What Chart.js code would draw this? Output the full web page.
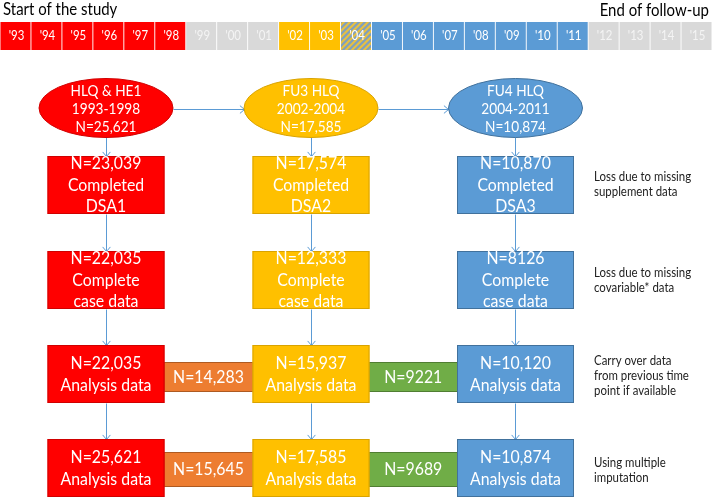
<!DOCTYPE html>
<html>
<head>
<meta charset="utf-8">
<script src="https://cdn.jsdelivr.net/npm/chart.js@4.4.1/dist/chart.umd.min.js"></script>
<style>
  html, body { margin: 0; padding: 0; background: #fff; }
  #wrap { width: 712px; height: 500px; }
</style>
</head>
<body>
<div id="wrap"><canvas id="flow"></canvas></div>
<script>
// timeline of the study, one cell per year
const years = ["'93", "'94", "'95", "'96", "'97", "'98", "'99", "'00", "'01", "'02", "'03", "'04",
               "'05", "'06", "'07", "'08", "'09", "'10", "'11", "'12", "'13", "'14", "'15"];
// wave each year belongs to (null = no survey, 'overlap' = FU3/FU4 both)
const yearWave = [0, 0, 0, 0, 0, 0, null, null, null, 1, 1, 'overlap',
                  2, 2, 2, 2, 2, 2, 2, null, null, null, null];

// survey waves
const waveNames = ['HLQ & HE1', 'FU3 HLQ', 'FU4 HLQ'];
const wavePeriods = ['1993-1998', '2002-2004', '2004-2011'];
const enrolled = [25621, 17585, 10874];

// participants remaining at each step
const completedDSA = [23039, 17574, 10870];
const completeCase = [22035, 12333, 8126];
const analysisCarry = [22035, 15937, 10120];
const carriedOver = [14283, 9221];
const analysisImputed = [25621, 17585, 10874];
const imputedOver = [15645, 9689];

const stepNotes = [
  ['Loss due to missing', 'supplement data'],
  ['Loss due to missing', 'covariable* data'],
  ['Carry over data', 'from previous time', 'point if available'],
  ['Using multiple', 'imputation']
];

// ---- styling / layout ----
const waveFill = ['#FF0000', '#FFC000', '#5B9BD5'];
const waveLine = ['#D00000', '#D9A300', '#41719C'];
const linkFill = ['#ED7D31', '#70AD47'];
const linkLine = ['#AE5A21', '#507E32'];
const arrowColor = '#5B9BD5';
const FONT = 'Lato, "Open Sans", sans-serif';
const SQUEEZE = 0.88; // Lato is wider than the original Calibri

const colCenter = [106, 311, 515.5];
const ellipseY = 108, ellipseRx = 67, ellipseRy = 29.5;
const rowTop = [156, 251, 345, 439];
const boxW = 117, boxH = 58;
const linkRows = [{ top: 362, bottom: 392 }, { top: 452, bottom: 487 }];
const noteX = 594;
const noteY = [177, 273, 361, 463];

function fmt(n) {
  return 'N=' + (n >= 10000 ? n.toLocaleString('en-US') : String(n));
}

function stripes() {
  const c = document.createElement('canvas');
  c.width = 6; c.height = 6;
  const g = c.getContext('2d');
  g.fillStyle = '#7FA0BE';
  g.fillRect(0, 0, 6, 6);
  g.strokeStyle = '#E8C040';
  g.lineWidth = 2;
  [[-3, 3, 3, -3], [0, 6, 6, 0], [3, 9, 9, 3]].forEach(function (l) {
    g.beginPath(); g.moveTo(l[0], l[1]); g.lineTo(l[2], l[3]); g.stroke();
  });
  return g.createPattern(c, 'repeat');
}

const ctx0 = document.getElementById('flow').getContext('2d');
const hatch = stripes();
const cellColors = yearWave.map(function (w) {
  if (w === null) return '#D9D9D9';
  if (w === 'overlap') return hatch;
  return waveFill[w];
});

const flowPlugin = {
  id: 'flow',
  afterDatasetsDraw(chart) {
    const ctx = chart.ctx;
    const X = v => chart.scales.px.getPixelForValue(v);
    const Y = v => chart.scales.y.getPixelForValue(v);
    const snap = p => Math.floor(p) + 0.5;

    function text(str, x, y, size, color, align) {
      ctx.save();
      ctx.font = size + 'px ' + FONT;
      ctx.fillStyle = color;
      ctx.textAlign = align || 'center';
      ctx.textBaseline = 'middle';
      ctx.translate(x, y);
      ctx.scale(SQUEEZE, 1);
      ctx.fillText(str, 0, 0);
      ctx.restore();
    }
    function lines(arr, cx, cy, size, gap, color) {
      const start = cy - gap * (arr.length - 1) / 2;
      arr.forEach((s, i) => text(s, cx, start + i * gap, size, color));
    }
    function arrow(x1, y1, x2, y2) {
      const ax = snap(X(x1)), ay = snap(Y(y1)), bx = snap(X(x2)), by = snap(Y(y2));
      ctx.strokeStyle = arrowColor;
      ctx.lineWidth = 1;
      ctx.beginPath(); ctx.moveTo(ax, ay); ctx.lineTo(bx, by); ctx.stroke();
      const a = Math.atan2(by - ay, bx - ax);
      ctx.beginPath();
      ctx.moveTo(bx - 6 * Math.cos(a - 0.7), by - 6 * Math.sin(a - 0.7));
      ctx.lineTo(bx, by);
      ctx.lineTo(bx - 6 * Math.cos(a + 0.7), by - 6 * Math.sin(a + 0.7));
      ctx.stroke();
    }
    function rect(l, t, r, b, fill, line) {
      ctx.fillStyle = fill;
      ctx.fillRect(X(l), Y(t), X(r) - X(l), Y(b) - Y(t));
      ctx.strokeStyle = line;
      ctx.lineWidth = 1;
      ctx.strokeRect(X(l) + 0.5, Y(t) + 0.5, X(r) - X(l) - 1, Y(b) - Y(t) - 1);
    }

    ctx.save();

    // headers
    text('Start of the study', 3, 10, 17, '#000', 'left');
    text('End of follow-up', 709, 11, 17, '#000', 'right');

    // year labels inside timeline cells
    const meta = chart.getDatasetMeta(0);
    meta.data.forEach((bar, i) => {
      const c = yearWave[i] === null ? '#F4F4F4' : '#FFFFFF';
      text(years[i], bar.x + 1, (bar.y + bar.base) / 2, 13, c);
    });

    // arrows
    arrow(colCenter[0] + ellipseRx, ellipseY + 1, colCenter[1] - ellipseRx, ellipseY + 1);
    arrow(colCenter[1] + ellipseRx, ellipseY + 1, colCenter[2] - ellipseRx, ellipseY + 1);
    colCenter.forEach(cx => {
      arrow(cx, ellipseY + ellipseRy, cx, rowTop[0]);
      for (let r = 1; r < rowTop.length; r++) arrow(cx, rowTop[r - 1] + boxH, cx, rowTop[r]);
    });

    // carry-over links between columns
    const linkValues = [carriedOver, imputedOver];
    linkRows.forEach((lr, k) => {
      for (let c = 0; c < 2; c++) {
        const l = colCenter[c] + boxW / 2, r = colCenter[c + 1] - boxW / 2;
        rect(l - 1, lr.top, r + 1, lr.bottom, linkFill[c], linkLine[c]);
        text(fmt(linkValues[k][c]), X((l + r) / 2), Y((lr.top + lr.bottom) / 2), 18, '#fff');
      }
    });

    // wave ellipses
    colCenter.forEach((cx, c) => {
      ctx.beginPath();
      ctx.ellipse(X(cx), Y(ellipseY), X(cx + ellipseRx) - X(cx), Y(ellipseY + ellipseRy) - Y(ellipseY), 0, 0, Math.PI * 2);
      ctx.fillStyle = waveFill[c];
      ctx.fill();
      ctx.strokeStyle = waveLine[c];
      ctx.lineWidth = 1;
      ctx.stroke();
      lines([waveNames[c], wavePeriods[c], fmt(enrolled[c])], X(cx), Y(ellipseY + 1), 15.5, 18, '#fff');
    });

    // step boxes
    const steps = [
      c => [fmt(completedDSA[c]), 'Completed', 'DSA' + (c + 1)],
      c => [fmt(completeCase[c]), 'Complete', 'case data'],
      c => [fmt(analysisCarry[c]), 'Analysis data'],
      c => [fmt(analysisImputed[c]), 'Analysis data']
    ];
    steps.forEach((f, r) => {
      colCenter.forEach((cx, c) => {
        rect(cx - boxW / 2, rowTop[r], cx + boxW / 2, rowTop[r] + boxH, waveFill[c], waveLine[c]);
        const ls = f(c);
        lines(ls, X(cx), Y(rowTop[r] + boxH / 2), 18, ls.length === 3 ? 21.5 : 22, '#fff');
      });
      stepNotes[r].forEach((s, i) => text(s, X(noteX), Y(noteY[r] + i * 15), 13, '#222', 'left'));
    });

    ctx.restore();
  }
};

new Chart(ctx0, {
  type: 'bar',
  data: {
    labels: years,
    datasets: [{
      data: years.map(() => [22, 50]),
      backgroundColor: cellColors,
      borderWidth: 0,
      barPercentage: 0.97,
      categoryPercentage: 1
    }]
  },
  options: {
    responsive: true,
    maintainAspectRatio: false,
    animation: false,
    layout: { padding: 0 },
    plugins: { legend: { display: false }, tooltip: { enabled: false } },
    scales: {
      x: { display: false },
      px: { type: 'linear', axis: 'x', min: 0, max: 712, offset: false, display: false },
      y: { type: 'linear', min: 0, max: 500, reverse: true, display: false }
    }
  },
  plugins: [flowPlugin]
});
</script>
</body>
</html>
